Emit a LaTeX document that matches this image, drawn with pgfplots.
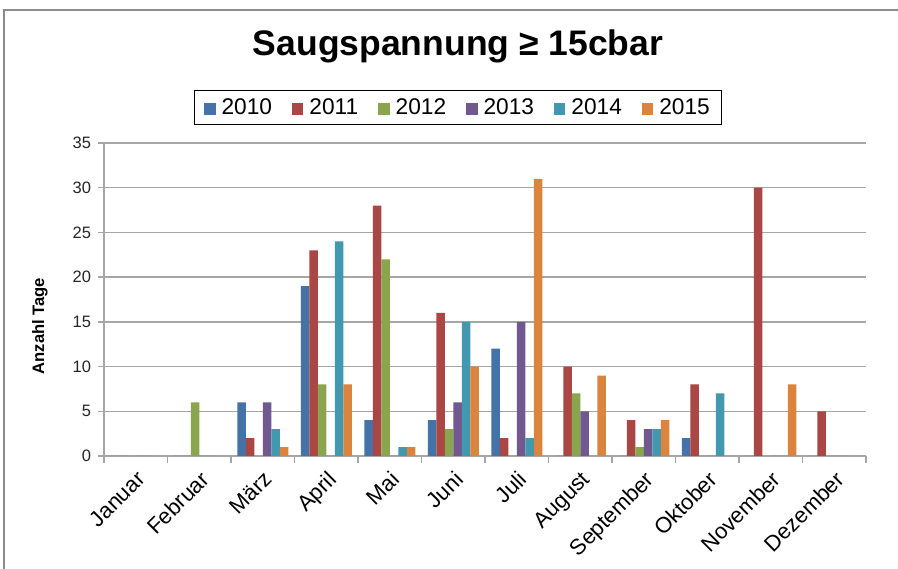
\documentclass[border=0pt]{standalone}
\usepackage{fontspec}
\setmainfont{Liberation Sans}
\usepackage{pgfplots}
\pgfplotsset{compat=1.18}
\definecolor{cA}{HTML}{4572A7}
\definecolor{cB}{HTML}{AA4643}
\definecolor{cC}{HTML}{89A54E}
\definecolor{cD}{HTML}{71588F}
\definecolor{cE}{HTML}{4198AF}
\definecolor{cF}{HTML}{DB843D}
\definecolor{gridgray}{HTML}{A6A6A6}
\definecolor{framegray}{HTML}{8C8C8C}
\begin{document}
\begin{tikzpicture}[x=1pt,y=1pt]
\useasboundingbox (0,0) rectangle (898,569);
\fill[white] (0,0) rectangle (898,569);
\draw[line width=2pt, color=framegray] (4,0) -- (4,559) -- (898,559);
\begin{axis}[
  at={(104pt,113pt)}, anchor=south west,
  scale only axis, width=762pt, height=313pt,
  ybar=0pt, bar width=8.5pt,
  xmin=-0.5, xmax=11.5, ymin=0, ymax=35,
  ytick={0,5,...,35},
  xtick={0,...,11},
  xticklabels={Januar,Februar,März,April,Mai,Juni,Juli,August,September,Oktober,November,Dezember},
  minor xtick={-0.5,0.5,...,11.5},
  axis x line*=bottom, axis y line*=left,
  tick align=outside,
  major x tick style={draw=none},
  major tick length=6pt, minor tick length=7pt,
  ymajorgrids,
  grid style={gridgray, line width=1.3pt},
  axis line style={gridgray, line width=1.3pt},
  tick style={gridgray, line width=1.3pt},
  x tick label style={yshift=-3pt, rotate=45, anchor=north east, font=\fontsize{22}{24}\selectfont},
  y tick label style={xshift=-3.5pt, font=\fontsize{16.5}{18}\selectfont, text=black!85},
  /pgf/number format/assume math mode=true,
  title={Saugspannung ≥ 15cbar},
  title style={at={(axis description cs:0.4646,1.2604)}, anchor=base, yshift=0pt, font=\bfseries\fontsize{35.5}{40}\selectfont},
  ylabel={Anzahl Tage},
  ylabel style={at={(axis description cs:-0.084,0.415)}, anchor=center, font=\bfseries\fontsize{16.6}{18}\selectfont},
  legend columns=6,
  legend image code/.code={\fill[#1] (0pt,-7pt) rectangle (11.4pt,5pt);},
  legend style={draw=black, line width=1pt, at={(axis description cs:0.4646,1.1134)}, anchor=center,
    font=\fontsize{22.7}{25}\selectfont, inner xsep=10pt, inner ysep=6pt,
    /tikz/every odd column/.append style={column sep=4pt},
    /tikz/every even column/.append style={column sep=18pt}},
]
\addplot[fill=cA, draw=none] coordinates {(0,0) (1,0) (2,6) (3,19) (4,4) (5,4) (6,12) (7,0) (8,0) (9,2) (10,0) (11,0)};
\addplot[fill=cB, draw=none] coordinates {(0,0) (1,0) (2,2) (3,23) (4,28) (5,16) (6,2) (7,10) (8,4) (9,8) (10,30) (11,5)};
\addplot[fill=cC, draw=none] coordinates {(0,0) (1,6) (2,0) (3,8) (4,22) (5,3) (6,0) (7,7) (8,1) (9,0) (10,0) (11,0)};
\addplot[fill=cD, draw=none] coordinates {(0,0) (1,0) (2,6) (3,0) (4,0) (5,6) (6,15) (7,5) (8,3) (9,0) (10,0) (11,0)};
\addplot[fill=cE, draw=none] coordinates {(0,0) (1,0) (2,3) (3,24) (4,1) (5,15) (6,2) (7,0) (8,3) (9,7) (10,0) (11,0)};
\addplot[fill=cF, draw=none] coordinates {(0,0) (1,0) (2,1) (3,8) (4,1) (5,10) (6,31) (7,9) (8,4) (9,0) (10,8) (11,0)};
\legend{2010,2011,2012,2013,2014,2015}
\end{axis}
\end{tikzpicture}
\end{document}
